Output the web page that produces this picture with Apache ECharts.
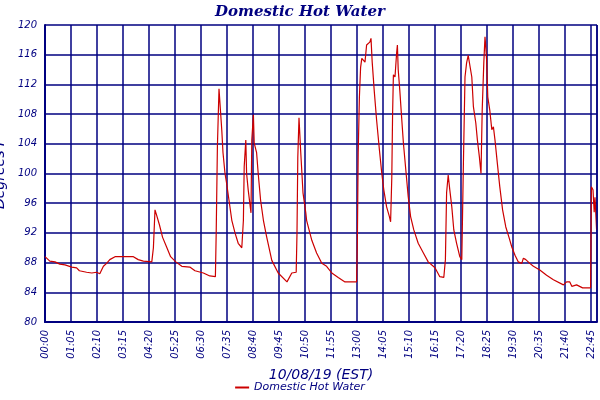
<!DOCTYPE html>
<html>
<head>
<meta charset="utf-8">
<script src="https://cdn.jsdelivr.net/npm/echarts@6/dist/echarts.min.js"></script>
<style>html,body{margin:0;padding:0;background:#fff}#main{width:600px;height:400px}</style>
</head>
<body>
<div id="main"></div>
<script>
// minutes after midnight, 10/08/19
var minutes = [0,12,25,37,50,67,79,86,104,117,129,137,146,154,162,175,187,221,233,246,267,271,275,279,286,294,304,314,327,342,362,375,396,412,426,428,431,435,442,445,450,454,460,467,475,483,492,496,498,502,504,508,515,517,521,523,529,533,539,546,554,567,583,605,617,628,630,632,635,639,645,652,654,667,679,692,704,717,733,750,779,781,783,786,789,792,800,804,812,815,818,823,829,836,842,847,854,861,864,867,869,871,875,879,881,883,887,892,896,902,908,914,922,933,946,958,975,987,997,1001,1004,1008,1012,1017,1022,1029,1037,1042,1046,1050,1054,1058,1061,1067,1071,1077,1081,1086,1090,1093,1097,1100,1102,1104,1107,1112,1117,1121,1125,1131,1137,1144,1152,1160,1167,1175,1183,1192,1196,1202,1212,1221,1237,1254,1271,1296,1304,1312,1317,1329,1344,1364,1366,1370,1373,1375,1379];
// Degrees F
var temps = [88.8,88.2,88.1,87.8,87.7,87.4,87.3,86.9,86.7,86.6,86.7,86.5,87.5,87.9,88.4,88.8,88.8,88.8,88.4,88.2,88.1,90,95.1,94.4,93.1,91.4,90.1,88.8,88.1,87.5,87.4,86.9,86.6,86.2,86.1,92,103.6,111.4,105.8,102.8,100,98.7,96.4,93.7,92,90.6,90,93.7,100.9,104.5,100,97.8,94.7,104.5,107.9,104.1,102.8,100,96.4,93.7,91.5,88.3,86.6,85.4,86.6,86.7,92,102.2,107.5,103.2,97.4,94.7,93.7,91,89.3,87.9,87.5,86.6,86,85.4,85.4,91.4,102.8,110.3,114.3,115.5,115,117.3,117.7,118.2,115,111.2,107.2,103.2,100,97.8,95.5,94.2,93.5,99.5,108.1,113.3,113,116.2,117.3,114,111.2,107.2,104.1,100.5,96.9,94.2,92.4,90.6,89.3,88.1,87.3,86.1,86,88.4,97.4,99.8,97.8,95.5,92.4,90.6,88.8,88.4,101.3,113,114.9,115.9,115.7,113,109,106.8,104.5,102.2,100,108.5,114.9,118.4,117,115.3,110.3,108.5,105.9,106.3,104.5,101.3,98.2,95.1,92.8,91.4,90.1,89,88.1,87.9,88.6,88.4,87.9,87.5,87,86.3,85.7,85,85.4,85.4,84.8,85,84.6,84.6,98.2,97.8,94.8,96.8,92.4];
// x tick labels: every 65 minutes, plus the end at 23:00
var xTicks = [0,65,130,195,260,325,390,455,520,585,650,715,780,845,910,975,1040,1105,1170,1235,1300,1365,1380];

var navy = '#000080';
var points = minutes.map(function (m, i) { return [m, temps[i]]; });

function hhmm(v) {
    var h = Math.floor(v / 60), m = v % 60;
    return (h < 10 ? '0' : '') + h + ':' + (m < 10 ? '0' : '') + m;
}

var chart = echarts.init(document.getElementById('main'));
chart.setOption({
    animation: false,
    title: {
        text: 'Domestic Hot Water',
        left: 'center',
        top: 0,
        textStyle: {color: navy, fontFamily: 'DejaVu Serif', fontStyle: 'italic', fontWeight: 'bold', fontSize: 15}
    },
    legend: {
        bottom: 2,
        left: 'center',
        itemWidth: 14,
        itemHeight: 2,
        icon: 'rect',
        textStyle: {color: navy, fontStyle: 'italic', fontFamily: 'DejaVu Sans', fontSize: 11},
        data: ['Domestic Hot Water']
    },
    grid: {left: 45, right: 3, top: 25, bottom: 78, outerBoundsMode: 'none', containLabel: false},
    xAxis: {
        type: 'value',
        min: 0,
        max: 1380,
        interval: 65,
        name: '10/08/19 (EST)',
        nameLocation: 'middle',
        nameGap: 46,
        nameTextStyle: {color: navy, fontStyle: 'italic', fontFamily: 'DejaVu Sans', fontSize: 14},
        axisLine: {show: true, lineStyle: {color: navy, width: 2}},
        axisTick: {show: false},
        axisLabel: {color: navy, fontStyle: 'italic', fontFamily: 'DejaVu Sans', fontSize: 10, rotate: 90,
            customValues: xTicks, formatter: hhmm},
        splitLine: {show: true, lineStyle: {color: navy, width: 1.5}}
    },
    yAxis: {
        type: 'value',
        min: 80,
        max: 120,
        interval: 4,
        name: 'Degrees F',
        nameLocation: 'middle',
        nameGap: 30,
        nameTextStyle: {color: navy, fontStyle: 'italic', fontFamily: 'DejaVu Sans', fontSize: 14},
        axisLine: {show: true, lineStyle: {color: navy, width: 2}},
        axisTick: {show: false},
        axisLabel: {color: navy, fontStyle: 'italic', fontFamily: 'DejaVu Sans', fontSize: 10},
        splitLine: {show: true, lineStyle: {color: navy, width: 1.5}}
    },
    series: [{
        name: 'Domestic Hot Water',
        type: 'line',
        showSymbol: false,
        color: '#cc0000',
        lineStyle: {color: '#cc0000', width: 1.2},
        data: points,
        markLine: {
            silent: true,
            symbol: 'none',
            label: {show: false},
            lineStyle: {color: navy, width: 1.5, type: 'solid'},
            data: [{xAxis: 1380}]
        }
    }]
});
</script>
</body>
</html>
